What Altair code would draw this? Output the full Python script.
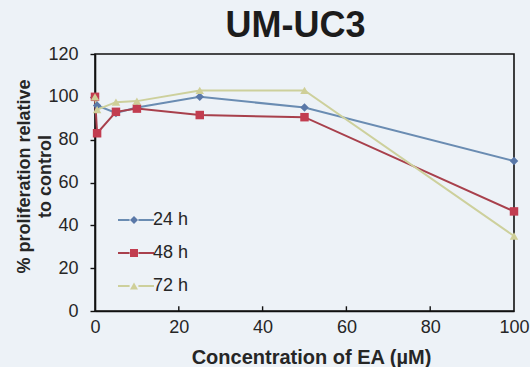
import altair as alt
import pandas as pd

# EA concentrations (µM) and proliferation (% of control) for each exposure time
conc = [0, 0.5, 5, 10, 25, 50, 100]
h24 = [100, 96, 92.5, 95, 100, 95, 70]
h48 = [100, 83, 93, 94.5, 91.5, 90.5, 46.5]
h72 = [100, 94, 97.5, 98, 103, 103, 35]

series_names = ["24 h", "48 h", "72 h"]
line_colors = ["#6a8cb2", "#a8404c", "#cdd09c"]
marker_colors = ["#5a78a8", "#c23d50", "#cfcf98"]
marker_shapes = ["diamond", "square", "triangle-up"]

# key used by the line layer, so its legend (line segments only) stays separate
line_keys = [n + " " for n in series_names]
# legend line segment, left and right of the marker
legend_line_path = "M-4,0L-1.1,0M1.1,0L5,0"

x_ticks = [0, 20, 40, 60, 80, 100]
y_ticks = [0, 20, 40, 60, 80, 100, 120]
inner_ticks = [20, 40, 60, 80]

rows = []
for name, key, vals in zip(series_names, line_keys, [h24, h48, h72]):
    for c, v in zip(conc, vals):
        rows.append({"conc": c, "value": v, "series": name, "line_key": key})
df = pd.DataFrame(rows)
tick_df = pd.DataFrame({"t": inner_ticks})

FONT = "Liberation Sans"
TXT = "#262626"

x_enc = alt.X(
    "conc:Q",
    scale=alt.Scale(domain=[0, 100], nice=False, zero=True),
    axis=alt.Axis(
        values=x_ticks,
        ticks=False,
        grid=False,
        domainColor="#111111",
        domainWidth=1.6,
        labelFont=FONT,
        labelFontSize=18,
        labelColor=TXT,
        labelPadding=7,
        labelFlush=False,
        title="Concentration of EA (µM)",
        titleFont=FONT,
        titleFontSize=20,
        titleFontWeight="bold",
        titleColor=TXT,
        titleBaseline="alphabetic",
        titleX=216,
        titleY=52,
        titleAnchor="middle",
    ),
)
y_enc = alt.Y(
    "value:Q",
    scale=alt.Scale(domain=[0, 120], nice=False, zero=True),
    axis=alt.Axis(
        values=y_ticks,
        grid=False,
        tickSize=5,
        tickColor="#111111",
        tickWidth=1.4,
        domainColor="#111111",
        domainWidth=1.6,
        labelFont=FONT,
        labelFontSize=18,
        labelColor=TXT,
        labelPadding=12,
        labelFlush=False,
        title=["% proliferation relative", "to control"],
        titleFont=FONT,
        titleFontSize=18,
        titleFontWeight="bold",
        titleColor=TXT,
        titleLineHeight=21,
        titleBaseline="alphabetic",
        titleAlign="center",
        titleAngle=270,
        titleX=-66,
        titleY=122,
    ),
)

legend_common = dict(
    title=None,
    orient="none",
    legendX=30,
    legendY=157,
    padding=0,
    symbolSize=64,
    symbolStrokeWidth=2,
    labelFont=FONT,
    labelFontSize=18,
    labelColor=TXT,
    labelOffset=10,
    rowPadding=15,
)

lines = alt.Chart(df).mark_line(strokeWidth=2).encode(
    x=x_enc,
    y=y_enc,
    stroke=alt.Stroke(
        "line_key:N",
        scale=alt.Scale(domain=line_keys, range=line_colors),
        legend=alt.Legend(symbolType=legend_line_path, labelOpacity=0, **legend_common),
    ),
    detail="series:N",
)

points = alt.Chart(df).mark_point(filled=True, size=72, opacity=1).encode(
    x="conc:Q",
    y="value:Q",
    color=alt.Color(
        "series:N",
        scale=alt.Scale(domain=series_names, range=marker_colors),
        legend=alt.Legend(**legend_common),
    ),
    shape=alt.Shape(
        "series:N",
        scale=alt.Scale(domain=series_names, range=marker_shapes),
        legend=alt.Legend(**legend_common),
    ),
)

ticks = alt.Chart(tick_df).mark_rule(color="#111111", strokeWidth=1.4).encode(
    x="t:Q",
    y=alt.datum(0),
    y2=alt.datum(2.2),
)

chart = (
    alt.layer(lines, ticks, points)
    .properties(
        width=419,
        height=257,
        background="#edf2f7",
        padding={"left": 95, "top": 54, "right": 16, "bottom": 56},
        autosize=alt.AutoSizeParams(type="none"),
        title=alt.Title(
            "UM-UC3",
            font=FONT,
            fontSize=36,
            fontWeight="bold",
            color="#1c1c1c",
            anchor="middle",
            frame="group",
            dx=-9,
            dy=4,
        ),
    )
    .configure_view(stroke="#111111", strokeWidth=1.6)
)

chart.save("out.html", embed_options={"renderer": "svg", "actions": False})
